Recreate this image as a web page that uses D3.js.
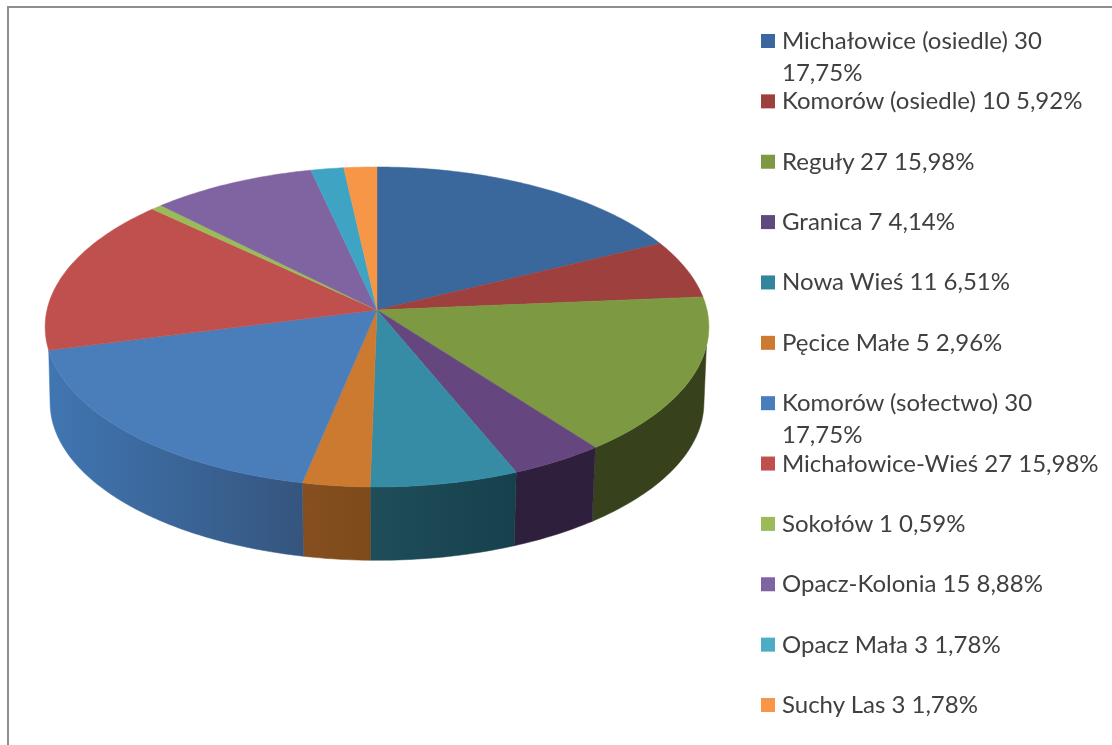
<!DOCTYPE html>
<html lang="pl">

<head>
  <meta charset="UTF-8">
  <title>Michałowice</title>
  <style>
    html,
    body {
      margin: 0;
      background: #fff;
    }

    svg {
      display: block;
      filter: blur(0.5px);
    }

    text {
      font-family: 'Lato', sans-serif;
      fill: #404040;
    }
  </style>
</head>

<body>
  <svg id="chart" width="1112" height="745" viewBox="0 0 1112 745"></svg>

  <script src="https://d3js.org/d3.v7.min.js"></script>
  <script>
    const names = ["Michałowice (osiedle)", "Komorów (osiedle)", "Reguły", "Granica", "Nowa Wieś", "Pęcice Małe",
      "Komorów (sołectwo)", "Michałowice-Wieś", "Sokołów", "Opacz-Kolonia", "Opacz Mała", "Suchy Las"];
    const counts = [30, 10, 27, 7, 11, 5, 30, 27, 1, 15, 3, 3];
    const percents = ["17,75%", "5,92%", "15,98%", "4,14%", "6,51%", "2,96%", "17,75%", "15,98%", "0,59%", "8,88%", "1,78%", "1,78%"];

    const topColors = ["#3a679c", "#9e413e", "#7d9a42", "#65467f", "#378ca5", "#cc7a2f",
      "#4a7ebb", "#c0504d", "#9bbb59", "#8064a2", "#3fa4c3", "#f79646"];
    const legendColors = ["#3a679c", "#a0403c", "#7d9a42", "#5f4a80", "#31859c", "#cc7a2f",
      "#4a7ebb", "#c0504d", "#9bbb59", "#8064a2", "#4bacc6", "#f79646"];
    const wallLeft = ["#2a4a70", "#6e2c2a", "#37421c", "#2e1f3c", "#1f4d5a", "#854f1f",
      "#4076b2", "#7a3330", "#62763a", "#51406a", "#28687a", "#9c5f2c"];
    const wallRight = ["#2a4a70", "#6e2c2a", "#37421c", "#2e1f3c", "#16414c", "#7f4a1b",
      "#35557e", "#7a3330", "#62763a", "#51406a", "#28687a", "#9c5f2c"];

    const svg = d3.select("#chart");

    // window frame, only top and left are visible
    svg.append("path")
      .attr("d", "M8,745V7H1112")
      .attr("fill", "none")
      .attr("stroke", "#8e8e8e")
      .attr("stroke-width", 2);

    // pie is a circle seen in perspective
    const cx = 377, topY = 310, bottomY = 386;
    const rx = 330, ry = 158.2, persp = 0.106, bottomScale = 0.985;
    const deg = Math.PI / 180;
    const wallFrom = 103 * deg, wallTo = 255.6 * deg;
    // the bottom rim is narrower, so its silhouette reaches further round
    const rimFrom = 97 * deg, rimTo = 263 * deg;

    function project(a, y0, s) {
      const w = 1 + persp * Math.cos(a);
      return [cx + s * rx * Math.sin(a) / w, y0 - s * ry * Math.cos(a) / w];
    }

    const line = d3.line();

    function arcPoints(a0, a1, y0, s) {
      const pts = d3.range(a0, a1, deg).map(a => project(a, y0, s));
      pts.push(project(a1, y0, s));
      return pts;
    }

    const arcs = d3.pie().sort(null).startAngle(0).endAngle(2 * Math.PI)(counts);

    const defs = svg.append("defs");
    const walls = svg.append("g");
    const tops = svg.append("g");

    arcs.forEach((d, i) => {
      const a0 = Math.max(d.startAngle, wallFrom), a1 = Math.min(d.endAngle, wallTo);
      if (a1 - a0 < 0.001) return;

      const upper = arcPoints(a0, a1, topY, 1);
      const lower = arcPoints(a0 === wallFrom ? rimFrom : a0, a1 === wallTo ? rimTo : a1, bottomY, bottomScale).reverse();

      const grad = defs.append("linearGradient")
        .attr("id", "wall" + i)
        .attr("gradientUnits", "userSpaceOnUse")
        .attr("x1", upper[upper.length - 1][0]).attr("x2", upper[0][0])
        .attr("y1", 0).attr("y2", 0);
      grad.append("stop").attr("offset", 0).attr("stop-color", wallLeft[i]);
      grad.append("stop").attr("offset", 1).attr("stop-color", wallRight[i]);

      walls.append("path")
        .attr("d", line(upper.concat(lower)) + "Z")
        .attr("fill", "url(#wall" + i + ")")
        .attr("stroke", "url(#wall" + i + ")")
        .attr("stroke-width", 0.5);
    });

    arcs.forEach((d, i) => {
      const pts = arcPoints(d.startAngle, d.endAngle, topY, 1);
      pts.unshift([cx, topY]);
      tops.append("path")
        .attr("d", line(pts) + "Z")
        .attr("fill", topColors[i])
        .attr("stroke", topColors[i])
        .attr("stroke-width", 0.5);
    });

    // legend
    const legendY = d3.scalePoint().domain(names).range([41, 705]);
    const legend = svg.append("g");
    const maxWidth = 325;

    names.forEach((name, i) => {
      const y = legendY(name);
      legend.append("rect")
        .attr("x", 761).attr("y", y - 7)
        .attr("width", 14).attr("height", 14)
        .attr("fill", legendColors[i]);

      const label = legend.append("text")
        .attr("x", 782).attr("y", y + 8)
        .attr("font-size", 24)
        .text(name + " " + counts[i] + " " + percents[i]);

      // wrap long entries like the legend in the picture
      if (label.node().getComputedTextLength() > maxWidth) {
        label.text(name + " " + counts[i]);
        legend.append("text")
          .attr("x", 782).attr("y", y + 40)
          .attr("font-size", 24)
          .text(percents[i]);
      }
    });
  </script>
</body>

</html>
